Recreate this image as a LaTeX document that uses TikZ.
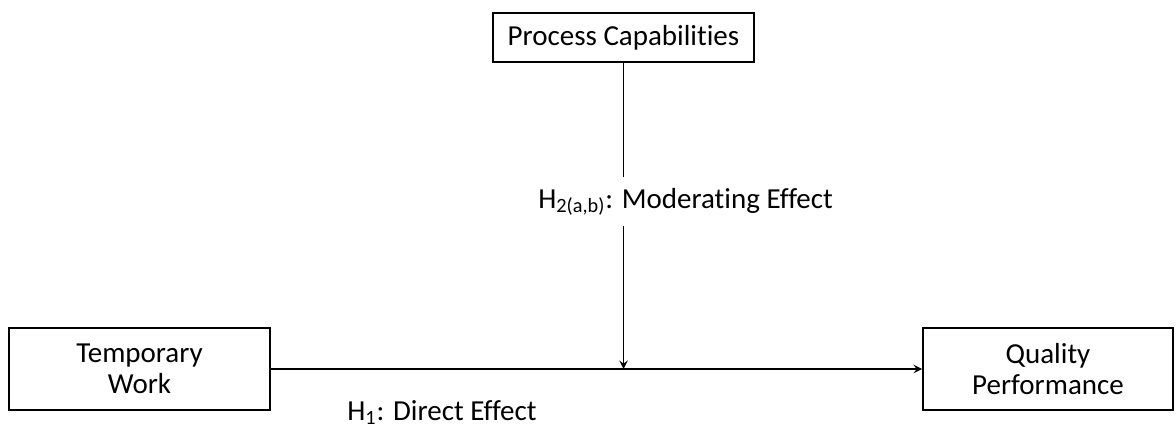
\documentclass[tikz,border=0pt]{standalone}
\usepackage{fontspec}
\setmainfont[Ligatures=NoCommon]{Carlito}
\usepackage{tikz}
\usetikzlibrary{positioning, arrows}
\tikzstyle{arrow} = [line width=1.1pt,->,>=stealth]

\begin{document}
\begin{tikzpicture}
                \tikzstyle{every node}=[font=\fontsize{16.5}{17.6}\selectfont]
                \tikzstyle{block} = [rectangle, draw=black, line width=1.1pt, align=center]
                \tikzstyle{hlabel} = [draw=none, inner xsep=0pt, inner ysep=0.22cm]

                \useasboundingbox (0,0) rectangle (23.52,8.56);

                \node[block, minimum width=5.22cm, minimum height=0.98cm](pc) at (12.47,7.81) {Process Capabilities};
                \node[block, minimum width=5.22cm, minimum height=1.64cm](tw) at (2.79,1.18) {Temporary\\Work};
                \node[block, minimum width=5.0cm, minimum height=1.64cm](qp) at (20.96,1.18) {Quality\\Performance};

                % point where the moderator meets the main path
                \coordinate (mod) at (pc.south |- tw.east);

                \draw[arrow] (tw) -- (qp);
                \draw[arrow] (pc) -- (mod);

                % labels
                \node[hlabel, fill=white, anchor=base west](h2) at (10.76,4.4) {H\textsubscript{2(a,b)}: Moderating Effect};
                \node[hlabel, anchor=base west](h1) at (6.94,0.16) {H\textsubscript{1}: Direct Effect};

        \end{tikzpicture}
\end{document}
